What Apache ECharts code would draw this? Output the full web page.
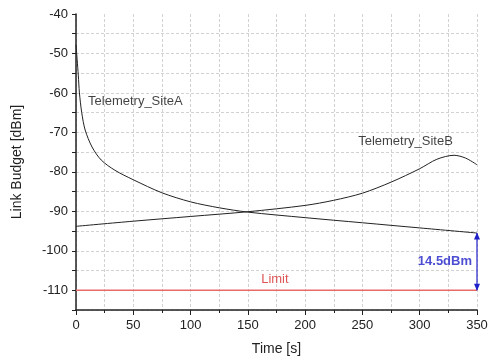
<!DOCTYPE html>
<html><head><meta charset="utf-8">
<script src="https://cdn.jsdelivr.net/npm/echarts@6/dist/echarts.min.js"></script>
<style>html,body{margin:0;padding:0;background:#fff}#c{width:492px;height:357px}</style>
</head><body><div id="c"></div>
<script>
const siteA_x = [0, 1, 2, 3, 5, 8, 14, 22, 34, 50, 75, 100, 125, 150, 200, 250, 300, 350];
const siteA_y = [-47.8, -51.5, -55.5, -60, -65, -69.4, -73.7, -77, -79.6, -82, -85.3, -87.6, -89.1, -90.2, -91.6, -92.9, -94.2, -95.5];
const siteB_x = [0, 50, 100, 150, 200, 225, 250, 275, 300, 315, 330, 340, 350];
const siteB_y = [-93.8, -92.5, -91.3, -90.1, -88.5, -87.2, -85.4, -82.6, -79.2, -76.8, -75.8, -76.5, -78.2];
const limitValue = -110;
const limitRange = [0, 350];
const marginTop = -95.5;
const marginLabel = '14.5dBm';
const xTicks = [0, 50, 100, 150, 200, 250, 300, 350];
const yTicks = [-110, -100, -90, -80, -70, -60, -50, -40];

const font = 'Liberation Sans, Arial, sans-serif';
const zip = (xs, ys) => xs.map((x, i) => [x, ys[i]]);
const chart = echarts.init(document.getElementById('c'));
const gridLine = {show: true, lineStyle: {color: '#d2d2d2', type: [3, 2], width: 1}};
chart.setOption({
  animation: false,
  grid: {left: 76, right: 15, top: 14, bottom: 47, containLabel: false, outerBoundsMode: 'none'},
  xAxis: {
    type: 'value', min: 0, max: 350, interval: 50,
    name: 'Time [s]', nameLocation: 'middle', nameGap: 32,
    nameTextStyle: {fontFamily: font, fontSize: 14, color: '#222'},
    axisLine: {show: true, onZero: false, lineStyle: {color: '#222', width: 1.5}},
    axisTick: {show: true, length: 5, lineStyle: {color: '#222'}},
    minorTick: {show: true, splitNumber: 2, length: 3, lineStyle: {color: '#222'}},
    axisLabel: {fontFamily: font, fontSize: 13, color: '#222', margin: 9},
    splitLine: gridLine, minorSplitLine: gridLine
  },
  yAxis: {
    type: 'value', min: -115, max: -40, interval: 5,
    name: 'Link Budget [dBm]', nameLocation: 'middle', nameGap: 52,
    nameTextStyle: {fontFamily: font, fontSize: 14, color: '#222'},
    axisLine: {show: true, onZero: false, lineStyle: {color: '#222', width: 1.5}},
    axisTick: {show: true, length: 4, lineStyle: {color: '#222'}},
    axisLabel: {fontFamily: font, fontSize: 13, color: '#222', margin: 8,
      formatter: v => yTicks.includes(v) ? String(v) : ''},
    splitLine: Object.assign({showMaxLine: false}, gridLine)
  },
  series: [
    {type: 'line', name: 'Telemetry_SiteA', data: zip(siteA_x, siteA_y), showSymbol: false, symbol: 'none',
     smooth: 0.3, lineStyle: {color: '#222', width: 1}, z: 3},
    {type: 'line', name: 'Telemetry_SiteB', data: zip(siteB_x, siteB_y), showSymbol: false, symbol: 'none',
     smooth: 0.3, lineStyle: {color: '#222', width: 1}, z: 3},
    {type: 'line', name: 'Limit', data: limitRange.map(x => [x, limitValue]), showSymbol: false, symbol: 'none',
     lineStyle: {color: '#e86a6a', width: 1.3}, z: 2},
    {type: 'line', name: 'margin', data: [[350, marginTop], [350, limitValue]], showSymbol: false,
     lineStyle: {color: '#2020c8', width: 1.2}, symbol: 'none', z: 4,
     markPoint: {symbol: 'triangle', symbolSize: [6, 7], itemStyle: {color: '#2020c8'}, label: {show: false},
       data: [{coord: [350, marginTop], symbolOffset: [0, 3]}, {coord: [350, limitValue], symbolRotate: 180, symbolOffset: [0, -3]}]}},
    {type: 'scatter', symbolSize: 0, silent: true, z: 5,
     data: [
       {value: [10.5, -62.1], label: {formatter: 'Telemetry_SiteA', position: 'right', distance: 0, color: '#111'}},
       {value: [246.3, -72.2], label: {formatter: 'Telemetry_SiteB', position: 'right', distance: 0, color: '#111'}},
       {value: [173.6, limitValue], label: {formatter: 'Limit', position: 'top', distance: 4, color: '#d42a2a'}},
       {value: [350, (marginTop + limitValue) / 2], label: {formatter: marginLabel, position: 'left', distance: 5, color: '#2020c8', fontWeight: 'bold'}}
     ],
     label: {show: true, fontFamily: font, fontSize: 13}}
  ]
});
</script></body></html>
